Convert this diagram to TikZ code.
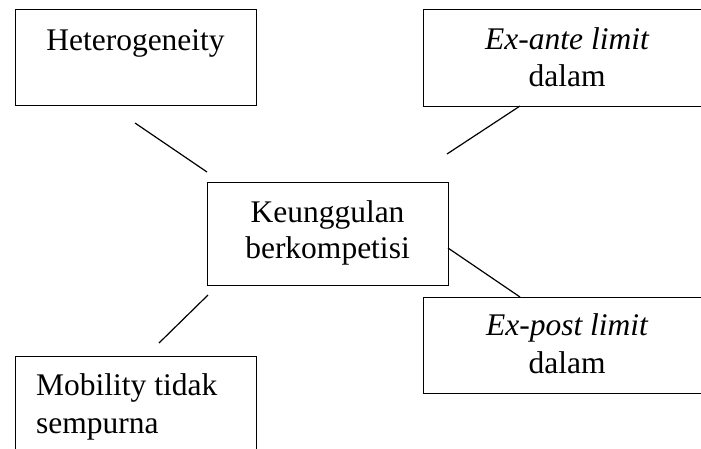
\documentclass[tikz,border=0pt]{standalone}
\usepackage{fontspec}
\setmainfont{Liberation Serif}
\begin{document}
\begin{tikzpicture}[x=1pt,y=-1pt,
  box/.style={draw=black,line width=1.3pt,inner sep=0pt,anchor=north west},
  txt/.style={inner sep=0pt,anchor=base,font=\fontsize{31.5}{37}\selectfont},
  link/.style={draw=black,line width=1.2pt}]
\useasboundingbox (0,0) rectangle (701,448);
\begin{scope}
\clip (0,0) rectangle (701,448);
% frames
\node[box,minimum width=241pt,minimum height=96pt] (het) at (15,9) {};
\node[box,minimum width=290pt,minimum height=97pt] (ante) at (423,9) {};
\node[box,minimum width=241pt,minimum height=103pt] (core) at (207,182) {};
\node[box,minimum width=290pt,minimum height=96pt] (post) at (423,297) {};
\node[box,minimum width=241pt,minimum height=110pt] (mob) at (15,356) {};
\end{scope}
% labels
\node[txt] (hett) at (135.5,50) {Heterogeneity};
\node[txt] (ante1) at (567,49) {\itshape Ex-ante limit};
\node[txt] (ante2) at (567,86) {dalam};
\node[txt] (core1) at (327.5,222) {Keunggulan};
\node[txt] (core2) at (327.5,258) {berkompetisi};
\node[txt] (post1) at (567,335) {\itshape Ex-post limit};
\node[txt] (post2) at (567,373) {dalam};
\node[txt,anchor=base west] (mob1) at (36,395) {Mobility tidak};
\node[txt,anchor=base west] (mob2) at (36,433) {sempurna};
% connector ends
\coordinate (a1) at (135,123);
\coordinate (a2) at (207,172);
\coordinate (b1) at (520,106);
\coordinate (b2) at (447,154);
\coordinate (c1) at (448,248);
\coordinate (c2) at (520,297);
\coordinate (d1) at (208,295);
\coordinate (d2) at (159,343);
\draw[link] (a1) -- (a2);
\draw[link] (b1) -- (b2);
\draw[link] (c1) -- (c2);
\draw[link] (d1) -- (d2);
\end{tikzpicture}
\end{document}
